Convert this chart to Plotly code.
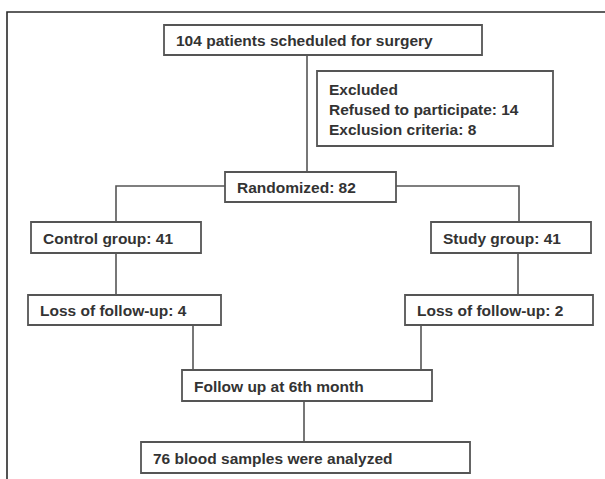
import plotly.graph_objects as go

# Texts of the flowchart
box_labels = [
    "104 patients scheduled for surgery",
    "Excluded<br>Refused to participate: 14<br>Exclusion criteria: 8",
    "Randomized: 82",
    "Control group: 41",
    "Study group: 41",
    "Loss of follow-up: 4",
    "Loss of follow-up: 2",
    "Follow up at 6th month",
    "76 blood samples were analyzed",
]

# Layout geometry (pixels): x0, y0, x1, y1
box_geom = [
    (164, 25, 482, 55),
    (317, 71, 553, 146),
    (225, 172, 396, 202),
    (31, 222, 201, 253),
    (431, 222, 591, 253),
    (28, 295, 221, 325),
    (405, 295, 593, 325),
    (182, 370, 432, 401),
    (141, 442, 470, 473),
]

# connector polylines
connectors = [
    [(307, 55), (307, 172)],
    [(225, 186), (116, 186), (116, 222)],
    [(396, 186), (519, 186), (519, 222)],
    [(116, 253), (116, 295)],
    [(518, 253), (518, 295)],
    [(193, 325), (193, 370)],
    [(421, 325), (421, 370)],
    [(304, 401), (304, 442)],
]

W, H = 605, 479
fig = go.Figure()

shapes = []
# outer frame (left and top)
shapes.append(dict(type="path", path=f"M 7,{H+5} L 7,12 L {W+5},12",
                   line=dict(color="#2a2a2a", width=1.6), xref="x", yref="y"))
for pts in connectors:
    path = "M " + " L ".join(f"{x},{y}" for x, y in pts)
    shapes.append(dict(type="path", path=path, line=dict(color="#555555", width=1.6),
                       xref="x", yref="y"))
for (x0, y0, x1, y1) in box_geom:
    shapes.append(dict(type="rect", x0=x0, y0=y0, x1=x1, y1=y1, xref="x", yref="y",
                       line=dict(color="#555555", width=1.8), fillcolor="white"))

annotations = []
for label, (x0, y0, x1, y1) in zip(box_labels, box_geom):
    annotations.append(dict(
        x=x0 + 10, y=(y0 + y1) / 2 + (1 if "<br>" in label else 0.5), xref="x", yref="y",
        text=f"<b>{label}</b>", showarrow=False, xanchor="left", yanchor="middle",
        align="left", font=dict(family="Liberation Sans, Arial, sans-serif", size=15.5,
                                color="#333333")))

fig.update_layout(
    width=W, height=H, margin=dict(l=0, r=0, t=0, b=0),
    paper_bgcolor="white", plot_bgcolor="white",
    xaxis=dict(range=[0, W], visible=False, fixedrange=True),
    yaxis=dict(range=[H, 0], visible=False, fixedrange=True),
    shapes=shapes, annotations=annotations, showlegend=False,
)
fig.write_html("out.html", config={"displayModeBar": False},
               post_script="document.body.style.margin='0';document.body.style.overflow='hidden';")
